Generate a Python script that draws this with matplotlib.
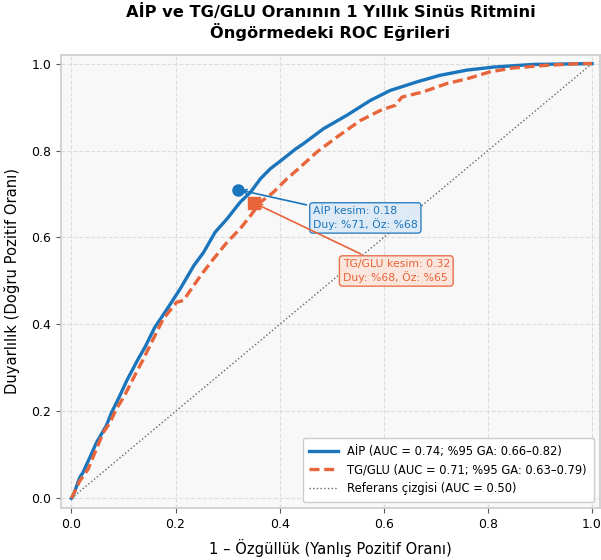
import matplotlib
matplotlib.use("Agg")
import matplotlib.pyplot as plt

plt.rcParams['font.family'] = ['DejaVu Sans']

# Data
aip_fpr = [0.0, 0.003, 0.016, 0.022, 0.038, 0.048, 0.067, 0.077, 0.093, 0.106, 0.128, 0.141,
           0.160, 0.173, 0.189, 0.209, 0.235, 0.254, 0.276, 0.299, 0.324, 0.344, 0.363, 0.382,
           0.407, 0.430, 0.446, 0.484, 0.529, 0.574, 0.612, 0.664, 0.708, 0.760, 0.811, 0.887, 1.0]
aip_tpr = [0.0, 0.005, 0.048, 0.059, 0.101, 0.128, 0.167, 0.197, 0.236, 0.270, 0.320, 0.347,
           0.393, 0.416, 0.445, 0.482, 0.535, 0.566, 0.612, 0.643, 0.681, 0.704, 0.735, 0.758,
           0.781, 0.803, 0.816, 0.850, 0.881, 0.915, 0.938, 0.958, 0.973, 0.985, 0.992, 0.998, 1.0]
tg_fpr = [0.0, 0.016, 0.032, 0.045, 0.061, 0.074, 0.086, 0.102, 0.118, 0.138, 0.157, 0.176,
          0.202, 0.215, 0.248, 0.273, 0.299, 0.324, 0.344, 0.363, 0.388, 0.414, 0.436, 0.472,
          0.510, 0.555, 0.593, 0.622, 0.635, 0.676, 0.721, 0.760, 0.804, 0.849, 0.913, 0.977, 1.0]
tg_tpr = [0.0, 0.040, 0.067, 0.105, 0.151, 0.174, 0.205, 0.236, 0.274, 0.320, 0.366, 0.412,
          0.451, 0.455, 0.512, 0.551, 0.589, 0.620, 0.650, 0.681, 0.704, 0.735, 0.758, 0.797,
          0.831, 0.869, 0.892, 0.904, 0.923, 0.935, 0.954, 0.965, 0.981, 0.990, 0.996, 1.0, 1.0]
ref = [0.0, 1.0]

aip_cut = (0.32, 0.71)
tg_cut = (0.35, 0.68)

aip_label = "AİP (AUC = 0.74; %95 GA: 0.66–0.82)"
tg_label = "TG/GLU (AUC = 0.71; %95 GA: 0.63–0.79)"
ref_label = "Referans çizgisi (AUC = 0.50)"
aip_note = "AİP kesim: 0.18\nDuy: %71, Öz: %68"
tg_note = "TG/GLU kesim: 0.32\nDuy: %68, Öz: %65"

blue = "#1b75bc"
orange = "#e8643a"

fig = plt.figure(figsize=(6.01, 5.6), dpi=100)
ax = fig.add_axes([0.1015, 0.093, 0.8965, 0.809])
ax.set_facecolor("#f8f8f8")

ax.plot(aip_fpr, aip_tpr, color=blue, lw=2.4, label=aip_label, zorder=3)
ax.plot(tg_fpr, tg_tpr, color=orange, lw=2.4, ls=(0, (3, 1.4)), label=tg_label, zorder=3)
ax.plot(ref, ref, color="#666666", lw=1.0, ls=":", label=ref_label, zorder=2)

ax.plot(*aip_cut, marker="o", ms=8, color=blue, zorder=5)
ax.plot(*tg_cut, marker="s", ms=8, color=orange, zorder=5)

ax.annotate(aip_note, xy=aip_cut, xytext=(0.464, 0.645), textcoords="data",
            fontsize=7.8, color=blue, va="center", ha="left",
            bbox=dict(boxstyle="round,pad=0.3", fc="#dce9f5", ec=blue, lw=1, alpha=0.9),
            arrowprops=dict(arrowstyle="->", color=blue, lw=1.2), zorder=6)
ax.annotate(tg_note, xy=tg_cut, xytext=(0.521, 0.523), textcoords="data",
            fontsize=7.8, color=orange, va="center", ha="left",
            bbox=dict(boxstyle="round,pad=0.3", fc="#fbe4da", ec=orange, lw=1, alpha=0.9),
            arrowprops=dict(arrowstyle="->", color=orange, lw=1.2), zorder=6)

ax.set_xlim(-0.02, 1.015)
ax.set_ylim(-0.022, 1.02)
ax.set_xticks([0, 0.2, 0.4, 0.6, 0.8, 1.0])
ax.set_yticks([0, 0.2, 0.4, 0.6, 0.8, 1.0])
ax.tick_params(labelsize=9, color="#555555")
ax.grid(True, ls="--", color="#dddddd", lw=0.8)
for s in ax.spines.values():
    s.set_color("#cccccc")
    s.set_linewidth(1.2)

ax.set_xlabel("1 – Özgüllük (Yanlış Pozitif Oranı)", fontsize=10.6, labelpad=6)
ax.set_ylabel("Duyarlılık (Doğru Pozitif Oranı)", fontsize=10.6, labelpad=8)
ax.set_title("AİP ve TG/GLU Oranının 1 Yıllık Sinüs Ritmini\nÖngörmedeki ROC Eğrileri",
             fontsize=11.7, fontweight="bold", pad=12)

leg = ax.legend(loc="lower right", fontsize=8.3, frameon=True, framealpha=1,
                edgecolor="#cccccc", handlelength=2.5, borderpad=0.6)

fig.savefig("out.png", dpi=100)
